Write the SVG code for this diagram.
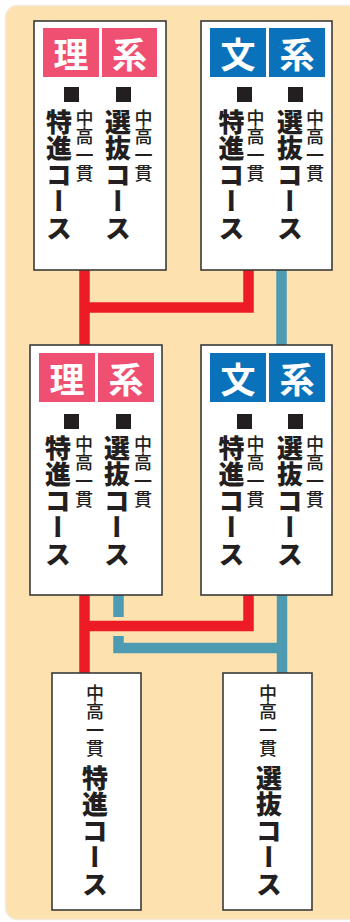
<svg xmlns="http://www.w3.org/2000/svg" width="350" height="922" viewBox="0 0 350 922">
<style>
.bg{fill:#FDE2B0;stroke:#F3EAD9;stroke-width:1.5}
.box{fill:#fff;stroke:#3a3a3a;stroke-width:1.6}
.pink{fill:#EF4F70}
.blue{fill:#0A72BA}
.hd{font-family:"Noto Sans CJK JP","Noto Sans CJK SC",sans-serif;font-weight:700;font-size:35px;fill:#fff;text-anchor:middle;dominant-baseline:central}
.sq{fill:#231F20}
.big{font-family:"Noto Sans CJK JP","Noto Sans CJK SC",sans-serif;font-weight:900;font-size:26px;fill:#231F20;writing-mode:vertical-rl;letter-spacing:0.5px}
.sm{font-family:"Noto Sans CJK JP","Noto Sans CJK SC",sans-serif;font-weight:500;font-size:18px;fill:#231F20;writing-mode:vertical-rl;letter-spacing:0.4px}
.r{fill:none;stroke:#ED1C24;stroke-width:10.5}
.b{fill:none;stroke:#4D9BB3;stroke-width:10.5}
</style>
<rect x="0" y="0" width="350" height="922" fill="#fff"/>
<rect class="bg" x="5.5" y="5.5" width="360" height="914" rx="12"/>
<g id="connectors">
<path class="r" d="M84.5,270 V345"/>
<path class="r" d="M248.5,270 V307.5 H84.5"/>
<path class="b" d="M281.5,270 V345"/>
<path class="r" d="M84.5,595 V673"/>
<path class="r" d="M248.5,595 V626 H84.5"/>
<path class="b" d="M118.5,595 V617"/>
<path class="b" d="M118.5,636 V648 H287"/>
<path class="b" d="M282,595 V673"/>
</g>
<g id="box1">
<rect class="box" x="34" y="21" width="132" height="249"/>
<rect class="pink" x="43" y="28" width="56" height="49"/>
<rect class="pink" x="102" y="28" width="55" height="49"/>
<text class="hd" x="71" y="52.5">理</text>
<text class="hd" x="129.5" y="52.5">系</text>
<rect class="sq" x="64" y="87" width="15" height="15"/>
<rect class="sq" x="116" y="87" width="15" height="15"/>
<text class="big" x="59" y="109">特進コース</text>
<text class="sm" x="84.5" y="109">中高一貫</text>
<text class="big" x="118" y="109">選抜コース</text>
<text class="sm" x="143.5" y="109">中高一貫</text>
</g>
<g id="box2">
<rect class="box" x="201" y="21" width="131" height="249"/>
<rect class="blue" x="210" y="28" width="56" height="49"/>
<rect class="blue" x="269" y="28" width="56" height="49"/>
<text class="hd" x="238" y="52.5">文</text>
<text class="hd" x="297" y="52.5">系</text>
<rect class="sq" x="237" y="87" width="15" height="15"/>
<rect class="sq" x="288" y="87" width="15" height="15"/>
<text class="big" x="231.5" y="109">特進コース</text>
<text class="sm" x="255.5" y="109">中高一貫</text>
<text class="big" x="290" y="109">選抜コース</text>
<text class="sm" x="315" y="109">中高一貫</text>
</g>
<g id="box3">
<rect class="box" x="30" y="345" width="132" height="250"/>
<rect class="pink" x="39" y="353" width="56" height="49"/>
<rect class="pink" x="98" y="353" width="56" height="49"/>
<text class="hd" x="67" y="377.5">理</text>
<text class="hd" x="126" y="377.5">系</text>
<rect class="sq" x="64" y="414" width="15" height="15"/>
<rect class="sq" x="116" y="414" width="15" height="15"/>
<text class="big" x="58" y="435">特進コース</text>
<text class="sm" x="84" y="435">中高一貫</text>
<text class="big" x="117" y="435">選抜コース</text>
<text class="sm" x="143" y="435">中高一貫</text>
</g>
<g id="box4">
<rect class="box" x="201" y="345" width="131" height="250"/>
<rect class="blue" x="210" y="353" width="56" height="49"/>
<rect class="blue" x="269" y="353" width="56" height="49"/>
<text class="hd" x="238" y="377.5">文</text>
<text class="hd" x="297" y="377.5">系</text>
<rect class="sq" x="237" y="414" width="15" height="15"/>
<rect class="sq" x="288" y="414" width="15" height="15"/>
<text class="big" x="231.5" y="435">特進コース</text>
<text class="sm" x="255.5" y="435">中高一貫</text>
<text class="big" x="290" y="435">選抜コース</text>
<text class="sm" x="315" y="435">中高一貫</text>
</g>
<g id="box5">
<rect class="box" x="52" y="673" width="89" height="237"/>
<text class="sm" x="95" y="684">中高一貫</text>
<text class="big" x="95" y="765">特進コース</text>
</g>
<g id="box6">
<rect class="box" x="223" y="673" width="89" height="237"/>
<text class="sm" x="268" y="684">中高一貫</text>
<text class="big" x="269" y="765">選抜コース</text>
</g>
</svg>
